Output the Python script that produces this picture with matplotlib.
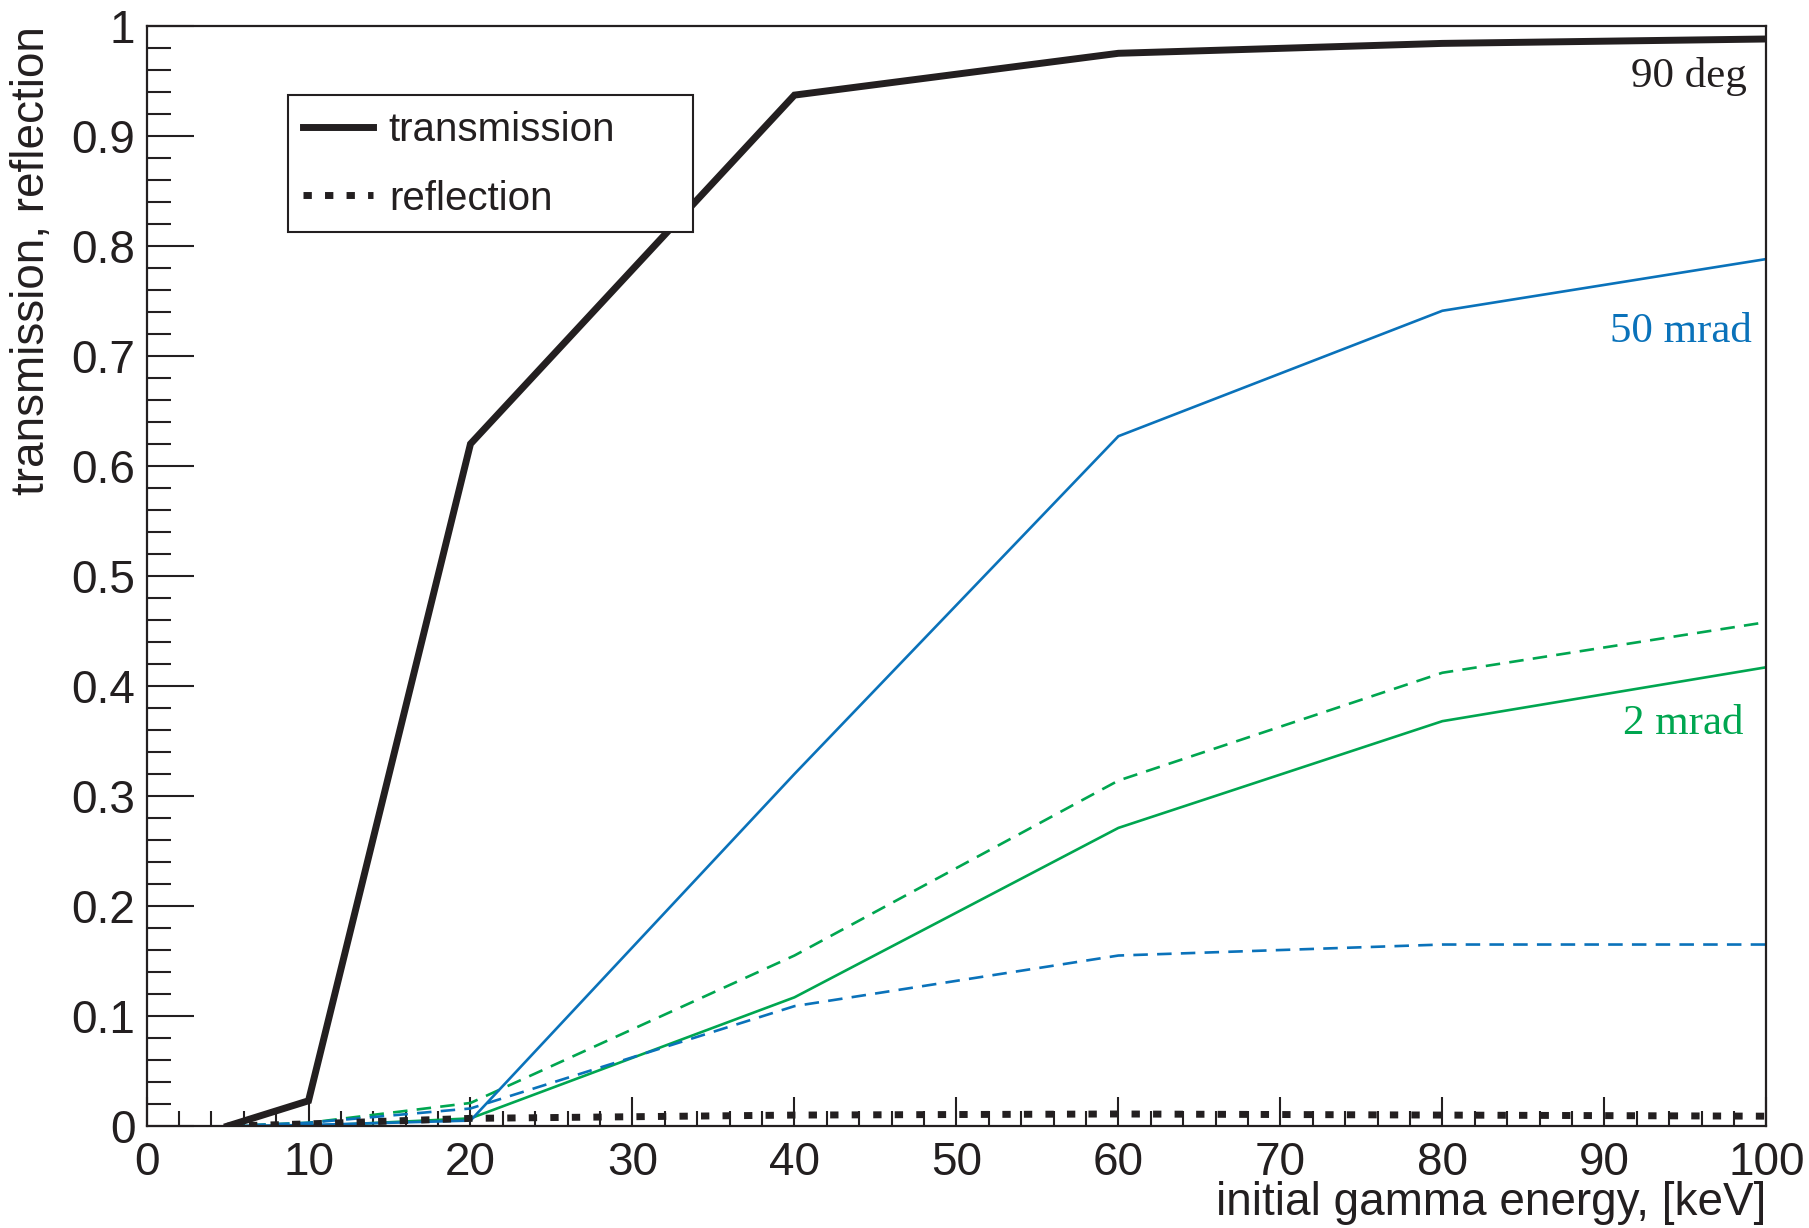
import numpy as np
import matplotlib
matplotlib.use("Agg")
import matplotlib.pyplot as plt
from matplotlib.patches import Rectangle
from matplotlib.ticker import MultipleLocator, FormatStrFormatter

plt.rcParams['font.family'] = ['Liberation Sans', 'DejaVu Sans']

# photon energy grid [keV]
energy = [5, 10, 20, 40, 60, 80, 100]

# 90 deg
trans_90deg = [0.0, 0.023, 0.620, 0.937, 0.975, 0.984, 0.988]
refl_90deg = [0.0, 0.002, 0.007, 0.010, 0.011, 0.010, 0.009]

# 50 mrad
trans_50mrad = [0.0, 0.001, 0.005, 0.320, 0.627, 0.741, 0.788]
refl_50mrad = [0.0, 0.003, 0.016, 0.109, 0.155, 0.165, 0.165]

# 2 mrad
trans_2mrad = [0.0, 0.0, 0.007, 0.117, 0.271, 0.368, 0.417]
refl_2mrad = [0.0, 0.003, 0.021, 0.155, 0.314, 0.412, 0.458]

blue = '#0a72ba'
green = '#00a650'
black = '#231f20'

fig = plt.figure(figsize=(18.09, 12.28), dpi=100)
ax = fig.add_axes([0.081, 0.083, 0.8954, 0.896])

ax.plot(energy, trans_2mrad, color=green, lw=1.9, solid_joinstyle='miter')
ax.plot(energy, refl_2mrad, color=green, lw=1.9, ls=(0, (5.5, 3.5)))
ax.plot(energy, trans_50mrad, color=blue, lw=1.9, solid_joinstyle='miter')
ax.plot(energy, refl_50mrad, color=blue, lw=1.9, ls=(0, (5.5, 3.5)))
ax.plot(energy, refl_90deg, color=black, lw=5, ls=(0, (1.2, 1.9)),
        label='reflection')
ax.plot(energy, trans_90deg, color=black, lw=5, solid_joinstyle='miter',
        label='transmission')

ax.set_xlim(0, 100)
ax.set_ylim(0, 1)

for s in ax.spines.values():
    s.set_linewidth(1.6)
    s.set_color(black)

ax.xaxis.set_major_locator(MultipleLocator(10))
ax.xaxis.set_minor_locator(MultipleLocator(2))
ax.yaxis.set_major_locator(MultipleLocator(0.1))
ax.yaxis.set_minor_locator(MultipleLocator(0.02))
ax.yaxis.set_major_formatter(FormatStrFormatter('%g'))
ax.xaxis.set_major_formatter(FormatStrFormatter('%g'))

ax.tick_params(axis='both', which='both', direction='in', color=black,
               labelsize=33, labelcolor=black, width=1.5)
ax.tick_params(axis='x', which='major', length=21, pad=11)
ax.tick_params(axis='x', which='minor', length=11)
ax.tick_params(axis='y', which='major', length=34, pad=8)
ax.tick_params(axis='y', which='minor', length=17)

ax.set_xlabel('initial gamma energy, [keV]', fontsize=33, color=black, loc='right')
ax.xaxis.set_label_coords(1.0, -0.05)
ax.set_ylabel('transmission, reflection', fontsize=33, color=black, loc='top')
ax.yaxis.set_label_coords(-0.057, 1.0)

serif = ['Liberation Serif', 'DejaVu Serif']
ax.text(98.8, 0.944, '90 deg', color=black, fontsize=31, family=serif,
        ha='right', va='baseline')
ax.text(99.1, 0.713, '50 mrad', color=blue, fontsize=31, family=serif,
        ha='right', va='baseline')
ax.text(98.6, 0.356, '2 mrad', color=green, fontsize=31, family=serif,
        ha='right', va='baseline')

# legend box drawn separately so it keeps the wide right margin
box = Rectangle((0.0876, 0.813), 0.2498, 0.124, transform=ax.transAxes,
                facecolor='white', edgecolor=black, lw=1.5, zorder=4.5)
ax.add_patch(box)

handles, labels = ax.get_legend_handles_labels()
leg = ax.legend(handles[::-1], labels[::-1], loc='center left',
                bbox_to_anchor=(0.0969, 0.874), borderaxespad=0, borderpad=0,
                fontsize=29, frameon=False,
                handlelength=1.72, handletextpad=0.4, labelspacing=0.75)
for t in leg.get_texts():
    t.set_color(black)

fig.savefig('out.png', dpi=100)
